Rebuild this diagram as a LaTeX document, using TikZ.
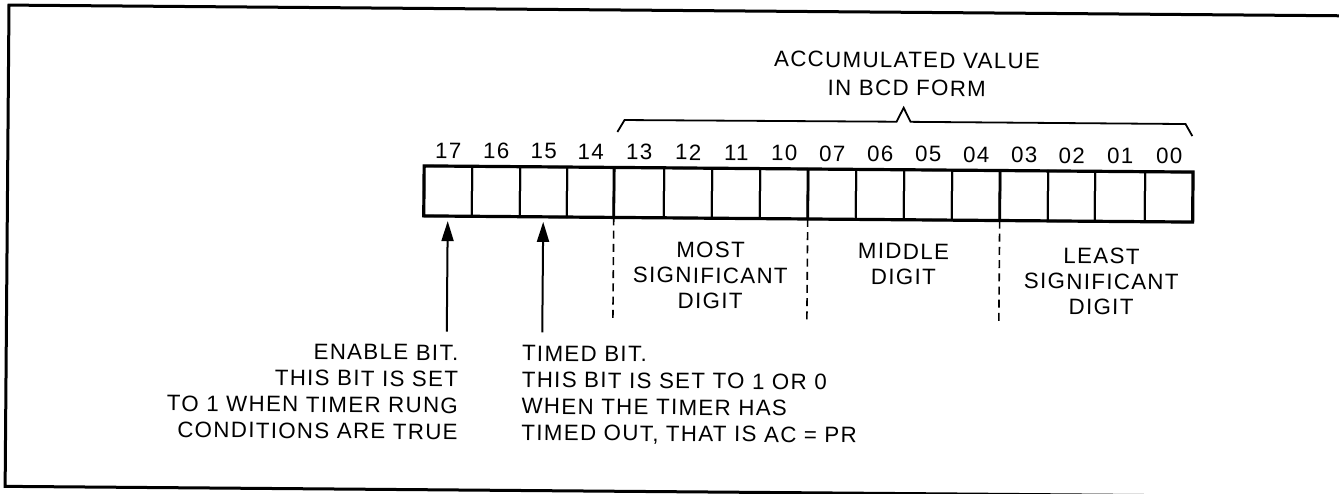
\documentclass[tikz,border=0pt]{standalone}
\usepackage{fontspec}
\setmainfont{Liberation Sans}[LetterSpace=6]
\usetikzlibrary{arrows.meta}
\tikzset{
 register/.style={font=\fontsize{11.15}{13.2}\selectfont,line cap=butt},
 bitcell/.style={rectangle,draw,line width=1pt,minimum height=25pt,inner sep=0pt,outer sep=0pt},
 bitnum/.style={anchor=base,inner sep=0pt},
 frameline/.style={line width=1.5pt},
 regframe/.style={line width=1.6pt},
 divider/.style={line width=1.4pt},
 digitsep/.style={line width=.8pt,dash pattern=on 4pt off 2.6pt},
 pointer/.style={line width=1pt,-{Triangle[length=10pt,width=6pt]},shorten >=2.5pt},
 bcdbrace/.style={line width=.9pt,line join=miter},
 heading/.style={align=center,anchor=north,inner sep=0pt,font=\fontsize{11.15}{14}\selectfont},
 grouplabel/.style={align=center,anchor=north,inner sep=0pt,font=\fontsize{11.15}{12.75}\selectfont},
 note/.style={align=left,anchor=north west,inner sep=0pt}
}
\begin{document}
\begin{tikzpicture}[register,x=.5pt,y=-.5pt]
 \useasboundingbox (0,0) rectangle (1339,493);
 \begin{scope}[rotate around={-0.46:(808,190)},transform shape]
 % frame, cut off at the right
 \draw[frameline] (1365,11.5) -- (7.5,11.5) -- (7.5,492.8) -- (1365,492.8);
 % the sixteen bits
 \foreach \b/\l/\r in {17/424/472,16/472/520,15/520/567,14/567/614,13/614/664,12/664/712,
   11/712/760,10/760/808,07/808/856,06/856/904,05/904/952,04/952/1000,03/1000/1048,
   02/1048/1095,01/1095/1145,00/1145/1193}{
   \node[bitcell,minimum width={(\r-\l)*.5pt}] (c\b) at ({(\l+\r)/2},194) {};
   \node[bitnum] (n\b) at ({(\l+\r)/2},161) {\b};
 }
 \draw[regframe] (c17.north west) rectangle (c00.south east);
 \foreach \g in {13,07,03}{
   \draw[divider] (c\g.north west) -- (c\g.south west);
   \draw[digitsep] (c\g.south west) -- ++(0,103);
 }
 % BCD bracket
 \coordinate (bl) at (617,133.5); \coordinate (br) at (1192,133);
 \draw[bcdbrace] (bl) -- (624,121.5) -- (896,121) -- (903,107) -- (910,121) -- (1185,121) -- (br);
 \node[heading] (acc) at (906,51) {ACCUMULATED VALUE\\IN BCD FORM};
 \node[grouplabel] (most) at (711,242.5) {MOST\\SIGNIFICANT\\DIGIT};
 \node[grouplabel] (middle) at (904,242.5) {MIDDLE\\DIGIT};
 \node[grouplabel] (least) at (1102,245.5) {LEAST\\SIGNIFICANT\\DIGIT};
 % enable and timed bits
 \coordinate (e17) at (c17.south |- 0,334.5);
 \coordinate (e15) at (c15.south |- 0,334.5);
 \draw[pointer] (e17) -- (c17.south);
 \draw[pointer] (e15) -- (c15.south);
 \node[note,align=right,anchor=north east] (enable) at (460,347.5)
   {ENABLE BIT.\\THIS BIT IS SET\\TO 1 WHEN TIMER RUNG\\CONDITIONS ARE TRUE};
 \node[note] (timed) at (523,347.5)
   {TIMED BIT.\\THIS BIT IS SET TO 1 OR 0\\WHEN THE TIMER HAS\\TIMED OUT, THAT IS AC = PR};
 \end{scope}
\end{tikzpicture}
\end{document}
